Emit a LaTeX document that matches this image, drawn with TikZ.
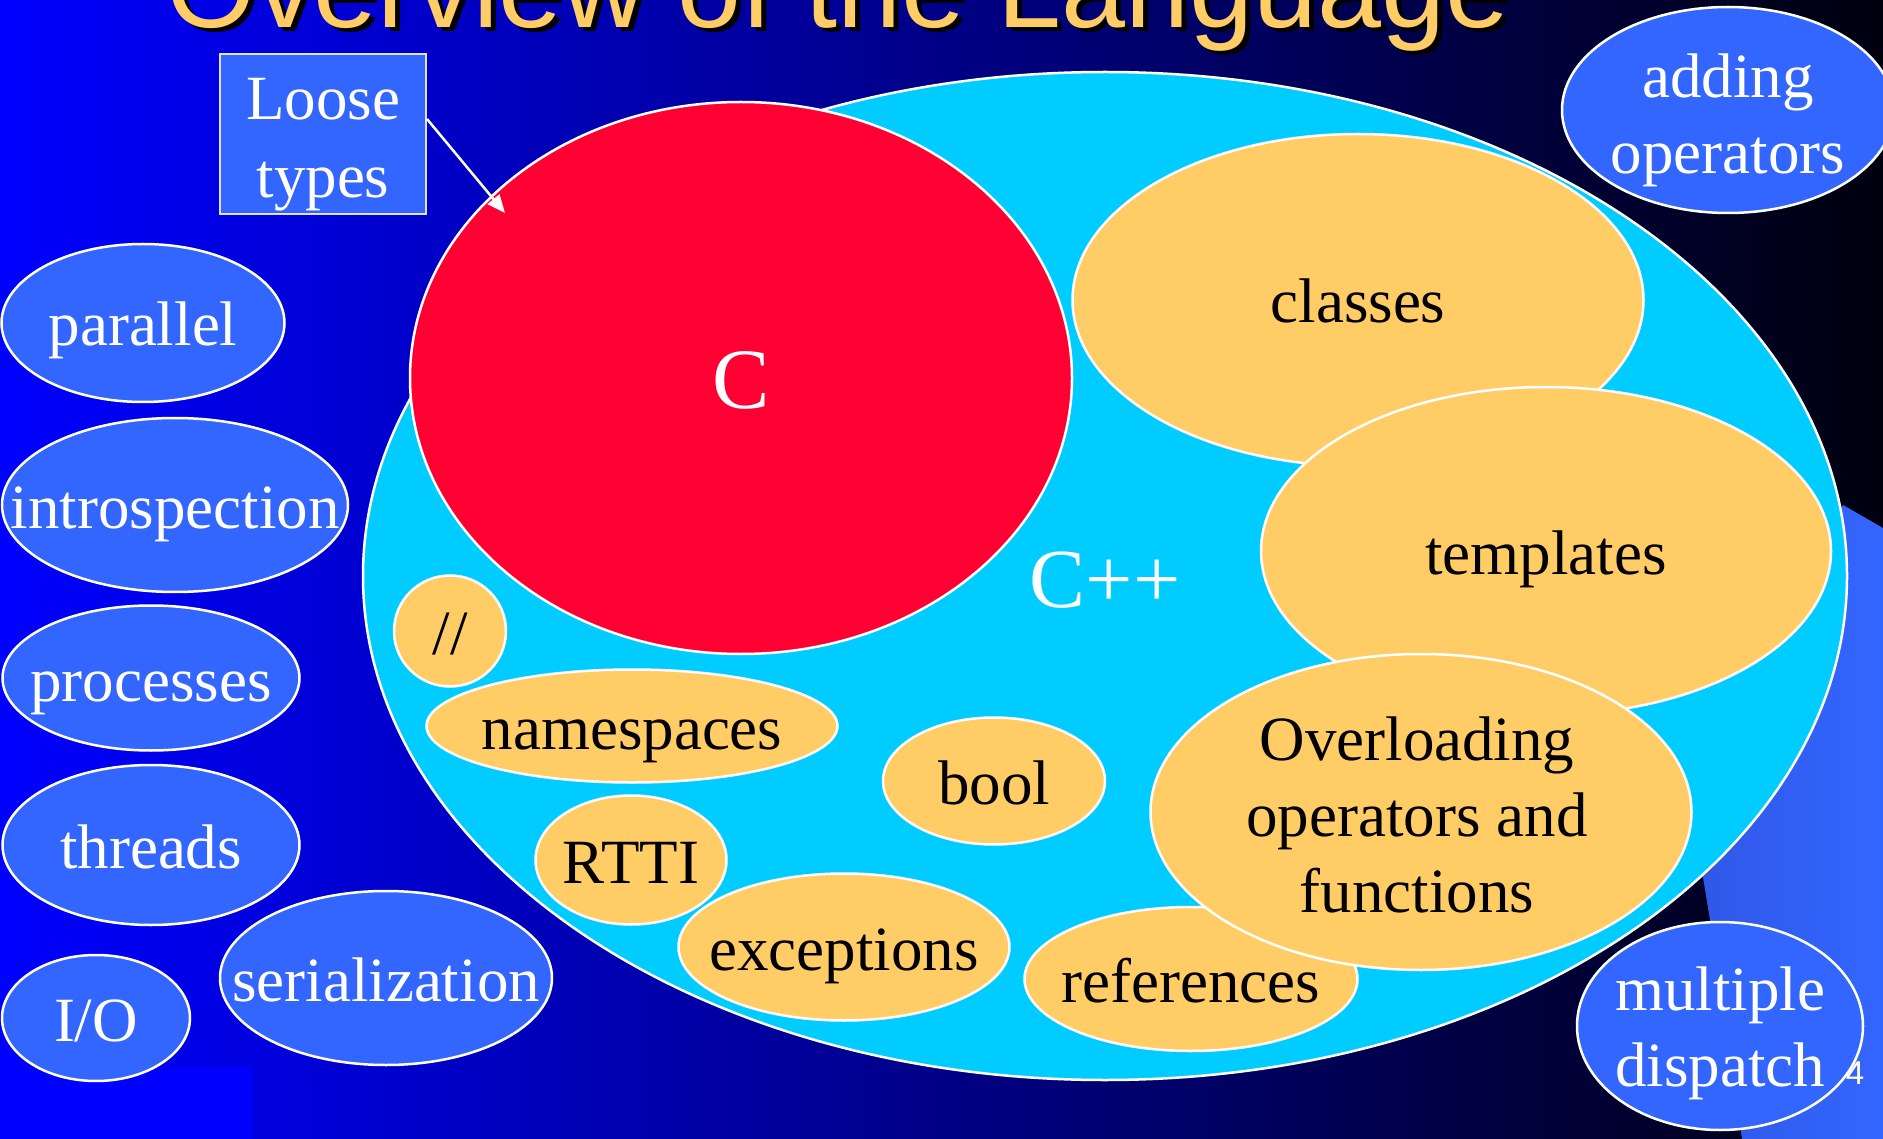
\documentclass[tikz,border=0pt]{standalone}
\usepackage{fontspec}
\setmainfont{Liberation Serif}
\newfontfamily\titlefont{Liberation Sans}
\usetikzlibrary{shapes.geometric,arrows.meta}

\definecolor{slideblue}{RGB}{0,0,255}
\definecolor{slidedark}{RGB}{0,0,14}
\definecolor{bubble}{RGB}{51,102,255}
\definecolor{bubbledark}{RGB}{48,88,232}
\definecolor{cppcyan}{RGB}{0,204,255}
\definecolor{cred}{RGB}{255,0,51}
\definecolor{feature}{RGB}{255,204,102}
\definecolor{boxedge}{RGB}{225,225,255}

\tikzset{
  blob/.style={ellipse, draw=white, line width=2.5pt, inner sep=0pt},
  outer/.style={blob, fill=bubble},
  inner/.style={blob, fill=feature},
  lbl/.style={font=\fontsize{63}{76}\selectfont, align=center, inner sep=0pt},
  % one-line labels sit on a baseline 23px below the bubble centre
  wlbl/.style={lbl, text=white, anchor=base},
  blbl/.style={lbl, text=black, anchor=base},
  % two- and three-line labels are centred on the bubble
  wblock/.style={lbl, text=white},
  bblock/.style={lbl, text=black},
  titletext/.style={font=\titlefont\fontsize{115}{115}\selectfont, anchor=base, inner sep=0pt},
}

\begin{document}
\begin{tikzpicture}[x=1pt,y=-1pt]
\useasboundingbox (0,0) rectangle (1883,1139);
\clip (0,0) rectangle (1883,1139);

% slide background
\shade[left color=slideblue, right color=slidedark] (0,0) rectangle (1883,1139);
\fill[slideblue] (0,1067) rectangle (252,1139);

% title with drop shadow
\node[titletext, text=black] (titleshadow) at (843,32) {Overview of the Language};
\node[titletext, text=feature] (title) at (838,28) {Overview of the Language};

% decorative swoosh at the right
\shade[left color=bubbledark, right color=bubble]
  (1843,505) -- (1883,528) -- (1883,1139) -- (1742,1139)
  .. controls (1728,1040) and (1714,940) .. (1700,860) -- (1780,600) -- cycle;

% C++ and C
\node[blob, fill=cppcyan, minimum width=1484pt, minimum height=1008pt] (cpp) at (1105,576) {};
\node[lbl, text=white, font=\fontsize{84}{84}\selectfont] (cpptext) at (1105,580) {C++};
\node[blob, fill=cred, minimum width=662pt, minimum height=552pt] (c) at (741,378) {};
\node[lbl, text=white, font=\fontsize{86}{86}\selectfont] (ctext) at (741,380) {C};

% C++ features
\node[inner, minimum width=571pt, minimum height=332pt] (classes) at (1358,300) {};
\node[blbl] (classestext) at ([yshift=-23pt]classes.center) {classes};
\node[inner, minimum width=570pt, minimum height=328pt] (templates) at (1546,551) {};
\node[blbl] (templatestext) at ([yshift=-23pt]templates.center) {templates};
\node[inner, minimum width=333pt, minimum height=144pt] (references) at (1191,979) {};
\node[blbl] (referencestext) at ([yshift=-23pt]references.center) {references};
\node[inner, minimum width=541pt, minimum height=316pt] (overloading) at (1421,812) {};
\node[bblock] (overloadingtext) at (1417,815) {Overloading\\operators and\\functions};
\node[inner, minimum width=112pt, minimum height=111pt] (slashes) at (450,631) {};
\node[blbl] (slashestext) at ([yshift=-23pt]slashes.center) {//};
\node[inner, minimum width=411pt, minimum height=113pt] (namespaces) at (632,726) {};
\node[blbl] (namespacestext) at ([yshift=-23pt]namespaces.center) {namespaces};
\node[inner, minimum width=222pt, minimum height=127pt] (bool) at (994,781) {};
\node[blbl] (booltext) at ([yshift=-23pt]bool.center) {bool};
\node[inner, minimum width=191pt, minimum height=129pt] (rtti) at (631,860) {};
\node[blbl] (rttitext) at ([yshift=-23pt]rtti.center) {RTTI};
\node[inner, minimum width=331pt, minimum height=147pt] (exceptions) at (844,947) {};
\node[blbl] (exceptionstext) at ([yshift=-23pt]exceptions.center) {exceptions};

% features outside C++
\node[outer, minimum width=332pt, minimum height=206pt] (adding) at (1728,110) {};
\node[wblock] (addingtext) at (1728,120) {adding\\operators};
\node[outer, minimum width=283pt, minimum height=158pt] (parallel) at (143,323) {};
\node[wlbl] (paralleltext) at ([yshift=-23pt]parallel.center) {parallel};
\node[outer, minimum width=346pt, minimum height=174pt] (introspection) at (175,505) {};
\node[wlbl] (introspectiontext) at ([yshift=-23pt]introspection.center) {introspection};
\node[outer, minimum width=297pt, minimum height=145pt] (processes) at (151,678) {};
\node[wlbl] (processestext) at ([yshift=-23pt]processes.center) {processes};
\node[outer, minimum width=297pt, minimum height=160pt] (threads) at (151,845) {};
\node[wlbl] (threadstext) at ([yshift=-23pt]threads.center) {threads};
\node[outer, minimum width=188pt, minimum height=126pt] (io) at (96,1018) {};
\node[wlbl] (iotext) at ([yshift=-23pt]io.center) {I/O};
\node[outer, minimum width=332pt, minimum height=174pt] (serialization) at (386,978) {};
\node[wlbl] (serializationtext) at ([yshift=-23pt]serialization.center) {serialization};
\node[outer, minimum width=286pt, minimum height=208pt] (multiple) at (1720,1026) {};
\node[wblock] (multipletext) at (1720,1033) {multiple\\dispatch};

% loose types callout
\node[draw=boxedge, line width=2pt, fill=bubble, minimum width=206pt, minimum height=160pt,
      inner sep=0pt] (loose) at (323,134) {};
\node[wblock, font=\fontsize{63}{78}\selectfont] (loosetext) at (323,145) {Loose\\types};
\coordinate (tip) at (505,213);
\draw[white, line width=2.5pt, -{Triangle[length=18pt,width=15pt]}] ([yshift=15pt]loose.east) -- (tip);

% slide number
\node[font=\titlefont\fontsize{33}{33}\selectfont, text=white, inner sep=0pt] (pagenum) at (1855,1073) {4};
\end{tikzpicture}
\end{document}
